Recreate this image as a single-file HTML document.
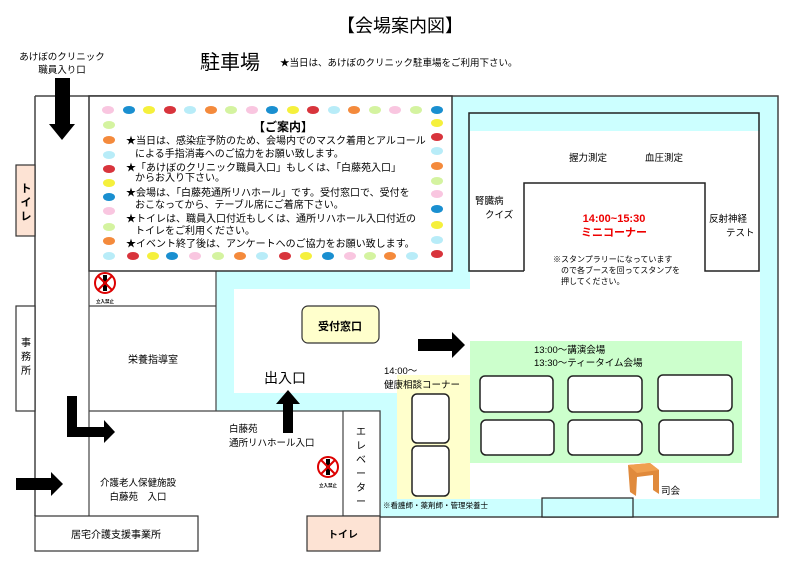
<!DOCTYPE html>
<html><head><meta charset="utf-8"><style>
html,body{margin:0;padding:0;background:#fff;}
svg{display:block;font-family:"Liberation Sans","Noto Sans CJK JP",sans-serif;}
</style></head><body>
<svg width="800" height="565" viewBox="0 0 800 565" xmlns="http://www.w3.org/2000/svg">
<rect width="800" height="565" fill="#fff"/>
<text x="400" y="32" font-size="18" text-anchor="middle">【会場案内図】</text>
<text x="200" y="69" font-size="20">駐車場</text>
<text x="280" y="66" font-size="9.5">★当日は、あけぼのクリニック駐車場をご利用下さい。</text>
<text x="62" y="60" font-size="9.5" text-anchor="middle">あけぼのクリニック</text>
<text x="62" y="73" font-size="9.5" text-anchor="middle">職員入り口</text>

<rect x="216" y="96" width="562" height="421" fill="#ccffff"/>
<rect x="89" y="411" width="291" height="106" fill="#fff"/>
<rect x="234" y="289" width="526" height="104" fill="#fff"/>
<rect x="470" y="131" width="290" height="368" fill="#fff"/>
<rect x="380" y="393" width="90" height="106" fill="#fff"/>
<rect x="380" y="393" width="17" height="106" fill="#ccffff"/>
<rect x="397" y="375" width="73" height="124" fill="#ffffcc"/>
<rect x="470" y="341" width="272" height="122" fill="#ccffcc"/>
<path d="M35,96 H778 V517 H380 M35,96 V516" fill="none" stroke="#444" stroke-width="1.5"/>
<rect x="470" y="114" width="288" height="17" fill="#ccffff"/>
<path d="M524,271 H469 V113 H759 V271 H705 V183 H524 V271" fill="none" stroke="#222" stroke-width="1.5"/>
<rect x="542" y="498" width="91" height="19" fill="#ccffff" stroke="#222" stroke-width="1.2"/>
<line x1="216" y1="271" x2="216" y2="411" stroke="#444" stroke-width="1.2"/>
<rect x="89" y="96" width="363" height="175" fill="#fff" stroke="#333" stroke-width="1.5"/>
<g>
<ellipse cx="108" cy="110" rx="6" ry="4" fill="#f9c6e0"/><ellipse cx="129" cy="110" rx="6" ry="4" fill="#1a8fd0"/><ellipse cx="149" cy="110" rx="6" ry="4" fill="#f5f03c"/><ellipse cx="170" cy="110" rx="6" ry="4" fill="#d8343c"/><ellipse cx="190" cy="110" rx="6" ry="4" fill="#b8ecf8"/><ellipse cx="211" cy="110" rx="6" ry="4" fill="#f48a3c"/><ellipse cx="231" cy="110" rx="6" ry="4" fill="#d4f3a0"/><ellipse cx="252" cy="110" rx="6" ry="4" fill="#f9c6e0"/><ellipse cx="272" cy="110" rx="6" ry="4" fill="#1a8fd0"/><ellipse cx="293" cy="110" rx="6" ry="4" fill="#f5f03c"/><ellipse cx="313" cy="110" rx="6" ry="4" fill="#d8343c"/><ellipse cx="334" cy="110" rx="6" ry="4" fill="#b8ecf8"/><ellipse cx="354" cy="110" rx="6" ry="4" fill="#f48a3c"/><ellipse cx="375" cy="110" rx="6" ry="4" fill="#d4f3a0"/><ellipse cx="395" cy="110" rx="6" ry="4" fill="#f9c6e0"/><ellipse cx="416" cy="110" rx="6" ry="4" fill="#d4f3a0"/>
<ellipse cx="437" cy="110" rx="6" ry="4" fill="#1a8fd0"/><ellipse cx="437" cy="123" rx="6" ry="4" fill="#f5f03c"/><ellipse cx="437" cy="137" rx="6" ry="4" fill="#d8343c"/><ellipse cx="437" cy="151" rx="6" ry="4" fill="#b8ecf8"/><ellipse cx="437" cy="166" rx="6" ry="4" fill="#f48a3c"/><ellipse cx="437" cy="181" rx="6" ry="4" fill="#d4f3a0"/><ellipse cx="437" cy="194" rx="6" ry="4" fill="#f9c6e0"/><ellipse cx="437" cy="209" rx="6" ry="4" fill="#1a8fd0"/><ellipse cx="437" cy="225" rx="6" ry="4" fill="#f5f03c"/><ellipse cx="437" cy="240" rx="6" ry="4" fill="#b8ecf8"/><ellipse cx="437" cy="254" rx="6" ry="4" fill="#d8343c"/>
<ellipse cx="109" cy="125" rx="6" ry="4" fill="#d4f3a0"/><ellipse cx="109" cy="140" rx="6" ry="4" fill="#f48a3c"/><ellipse cx="109" cy="155" rx="6" ry="4" fill="#b8ecf8"/><ellipse cx="109" cy="169" rx="6" ry="4" fill="#d8343c"/><ellipse cx="109" cy="183" rx="6" ry="4" fill="#f5f03c"/><ellipse cx="109" cy="197" rx="6" ry="4" fill="#1a8fd0"/><ellipse cx="109" cy="211" rx="6" ry="4" fill="#f9c6e0"/><ellipse cx="109" cy="227" rx="6" ry="4" fill="#d4f3a0"/><ellipse cx="109" cy="241" rx="6" ry="4" fill="#f48a3c"/><ellipse cx="109" cy="256" rx="6" ry="4" fill="#b8ecf8"/>
<ellipse cx="133" cy="256" rx="6" ry="4" fill="#d8343c"/><ellipse cx="153" cy="256" rx="6" ry="4" fill="#f5f03c"/><ellipse cx="172" cy="256" rx="6" ry="4" fill="#1a8fd0"/><ellipse cx="195" cy="256" rx="6" ry="4" fill="#f9c6e0"/><ellipse cx="218" cy="256" rx="6" ry="4" fill="#d4f3a0"/><ellipse cx="240" cy="256" rx="6" ry="4" fill="#f48a3c"/><ellipse cx="262" cy="256" rx="6" ry="4" fill="#b8ecf8"/><ellipse cx="285" cy="256" rx="6" ry="4" fill="#d8343c"/><ellipse cx="306" cy="256" rx="6" ry="4" fill="#f5f03c"/><ellipse cx="328" cy="256" rx="6" ry="4" fill="#1a8fd0"/><ellipse cx="350" cy="256" rx="6" ry="4" fill="#f9c6e0"/><ellipse cx="370" cy="256" rx="6" ry="4" fill="#d4f3a0"/><ellipse cx="390" cy="256" rx="6" ry="4" fill="#f48a3c"/><ellipse cx="412" cy="256" rx="6" ry="4" fill="#b8ecf8"/>
</g>
<g font-size="10">
<text x="283" y="131" font-size="12" font-weight="bold" text-anchor="middle">【ご案内】</text>
<text x="126" y="144">★当日は、感染症予防のため、会場内でのマスク着用とアルコール</text>
<text x="135" y="157">による手指消毒へのご協力をお願い致します。</text>
<text x="126" y="171">★「あけぼのクリニック職員入口」もしくは、「白藤苑入口」</text>
<text x="135" y="181">からお入り下さい。</text>
<text x="126" y="196">★会場は、「白藤苑通所リハホール」です。受付窓口で、受付を</text>
<text x="135" y="208">おこなってから、テーブル席にご着席下さい。</text>
<text x="126" y="222">★トイレは、職員入口付近もしくは、通所リハホール入口付近の</text>
<text x="135" y="234">トイレをご利用ください。</text>
<text x="126" y="247">★イベント終了後は、アンケートへのご協力をお願い致します。</text>
</g>
<rect x="16" y="165" width="19" height="71" fill="#fde3d4" stroke="#333" stroke-width="1.2"/>
<text x="26" y="192" font-size="11" font-weight="bold" text-anchor="middle">ト</text>
<text x="26" y="206" font-size="11" font-weight="bold" text-anchor="middle">イ</text>
<text x="26" y="220" font-size="11" font-weight="bold" text-anchor="middle">レ</text>
<rect x="16" y="306" width="19" height="105" fill="#fff" stroke="#333" stroke-width="1.2"/>
<text x="26" y="346" font-size="10" text-anchor="middle">事</text>
<text x="26" y="360" font-size="10" text-anchor="middle">務</text>
<text x="26" y="374" font-size="10" text-anchor="middle">所</text>
<line x1="89" y1="271" x2="89" y2="516" stroke="#444" stroke-width="1.2"/>
<path d="M89,306 H216 M89,411 H380 V517" fill="none" stroke="#444" stroke-width="1.2"/>
<text x="153" y="363" font-size="10" text-anchor="middle">栄養指導室</text>
<rect x="343" y="411" width="37" height="105" fill="#fff" stroke="#444" stroke-width="1.2"/>
<g font-size="10" text-anchor="middle"><text x="361" y="435">エ</text><text x="361" y="449">レ</text><text x="361" y="463">ベ</text><text x="361" y="477">ー</text><text x="361" y="491">タ</text><text x="361" y="505">ー</text></g>
<rect x="307" y="516" width="73" height="35" fill="#fde3d4" stroke="#333" stroke-width="1.2"/>
<text x="343" y="538" font-size="10" font-weight="bold" text-anchor="middle">トイレ</text>
<rect x="35" y="516" width="163" height="35" fill="#fff" stroke="#333" stroke-width="1.2"/>
<text x="116" y="538" font-size="10" text-anchor="middle">居宅介護支援事業所</text>
<text x="138" y="486" font-size="9.5" text-anchor="middle">介護老人保健施設</text>
<text x="138" y="500" font-size="9.5" text-anchor="middle">白藤苑　入口</text>
<text x="229" y="432" font-size="9.5">白藤苑</text>
<text x="229" y="446" font-size="9.5">通所リハホール入口</text>
<text x="264" y="383" font-size="14">出入口</text>
<g transform="translate(105,283)"><circle r="10" fill="#fff" stroke="#d00" stroke-width="2"/><rect x="-2" y="-8" width="4" height="16" fill="#000"/><line x1="-7" y1="-7" x2="7" y2="7" stroke="#d00" stroke-width="2"/><line x1="7" y1="-7" x2="-7" y2="7" stroke="#d00" stroke-width="2"/><text y="20" font-size="4.5" font-weight="bold" text-anchor="middle">立入禁止</text></g>
<g transform="translate(328,467)"><circle r="10" fill="#fff" stroke="#d00" stroke-width="2"/><rect x="-2" y="-8" width="4" height="16" fill="#000"/><line x1="-7" y1="-7" x2="7" y2="7" stroke="#d00" stroke-width="2"/><line x1="7" y1="-7" x2="-7" y2="7" stroke="#d00" stroke-width="2"/><text y="20" font-size="4.5" font-weight="bold" text-anchor="middle">立入禁止</text></g>
<polygon points="55,78 70,78 70,124 75,124 62,140 49,124 55,124" fill="#000"/>
<polygon points="283,433 293,433 293,404 300,404 288,390 276,404 283,404" fill="#000"/>
<polygon points="67,396 77,396 77,427 104,427 104,420 115,432 104,443 104,437 67,437" fill="#000"/>
<polygon points="16,478 51,478 51,472 63,484 51,496 51,490 16,490" fill="#000"/>
<polygon points="418,339 452,339 452,332 465,345 452,358 452,351 418,351" fill="#000"/>
<rect x="302" y="306" width="77" height="37" rx="6" fill="#ffffcc" stroke="#333" stroke-width="1.2"/>
<text x="340" y="330" font-size="11" font-weight="bold" text-anchor="middle">受付窓口</text>
<text x="588" y="161" font-size="9.5" text-anchor="middle">握力測定</text>
<text x="664" y="161" font-size="9.5" text-anchor="middle">血圧測定</text>
<text x="475" y="204" font-size="9.5">腎臓病</text>
<text x="485" y="218" font-size="9.5">クイズ</text>
<text x="709" y="222" font-size="9.5">反射神経</text>
<text x="726" y="236" font-size="9.5">テスト</text>
<text x="614" y="222" font-size="11" font-weight="bold" fill="#e00" text-anchor="middle">14:00~15:30</text>
<text x="614" y="236" font-size="11" font-weight="bold" fill="#e00" text-anchor="middle">ミニコーナー</text>
<text x="553" y="262" font-size="8">※スタンプラリーになっています</text>
<text x="561" y="273" font-size="8">ので各ブースを回ってスタンプを</text>
<text x="561" y="284" font-size="8">押してください。</text>
<text x="534" y="353" font-size="9.5">13:00～講演会場</text>
<text x="534" y="366" font-size="9.5">13:30～ティータイム会場</text>
<text x="384" y="374" font-size="9.5">14:00～</text>
<text x="384" y="388" font-size="9.5">健康相談コーナー</text>
<g fill="#fff" stroke="#222" stroke-width="1.5">
<rect x="480" y="376" width="73" height="36" rx="5"/><rect x="568" y="376" width="74" height="36" rx="5"/><rect x="658" y="375" width="74" height="36" rx="5"/>
<rect x="481" y="420" width="73" height="35" rx="5"/><rect x="568" y="420" width="74" height="35" rx="5"/><rect x="659" y="420" width="74" height="35" rx="5"/>
<rect x="412" y="394" width="37" height="49" rx="5"/><rect x="412" y="446" width="37" height="50" rx="5"/>
</g>
<text x="383" y="508" font-size="7.5">※看護師・薬剤師・管理栄養士</text>
<polygon points="628,465 650,463 659,470 659,494 653,490 653,475 637,477 636,496 630,492" fill="#e08a3c"/>
<polygon points="628,465 650,463 659,470 637,473" fill="#f0a050"/>
<text x="661" y="494" font-size="9.5">司会</text>
</svg>
</body></html>
